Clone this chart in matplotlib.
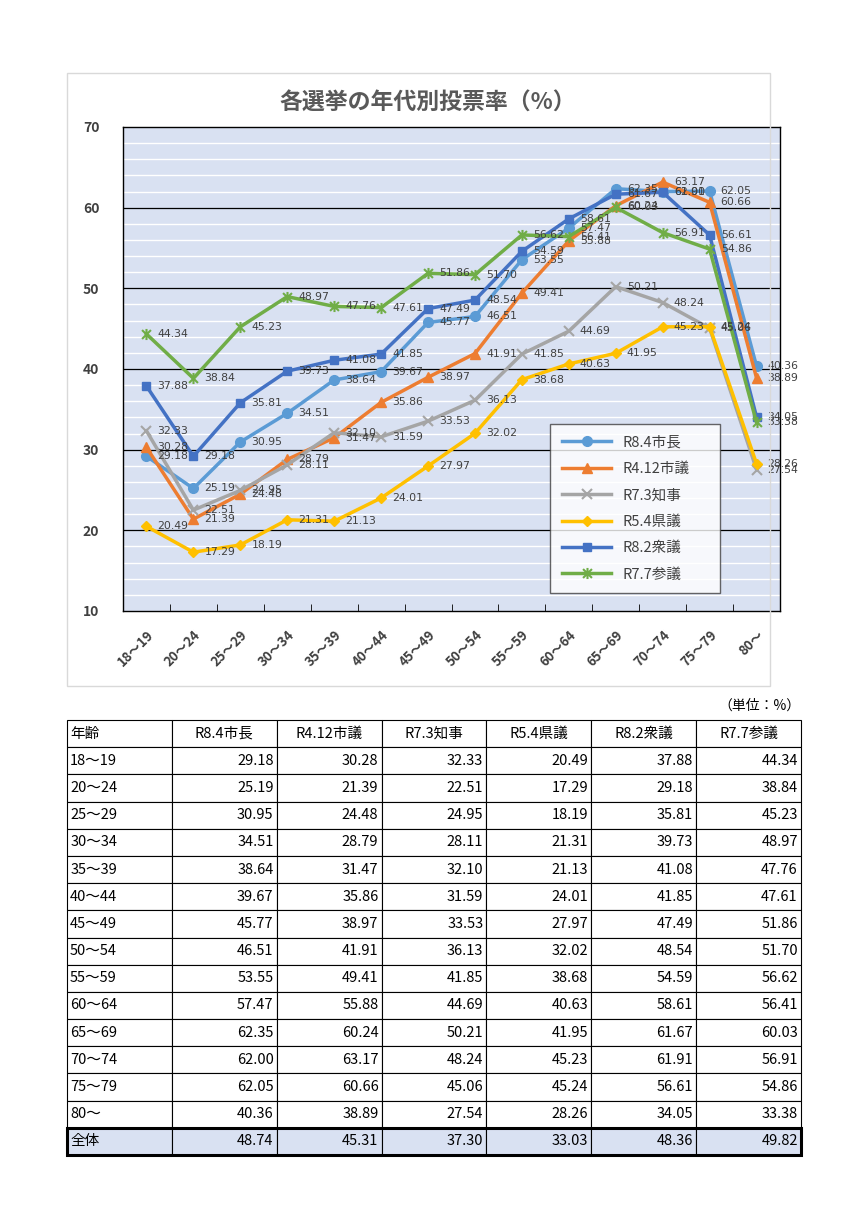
import matplotlib
matplotlib.use("Agg")
import matplotlib.pyplot as plt
from matplotlib.patches import Rectangle
from matplotlib.path import Path
import numpy as np

plt.rcParams['font.family'] = ['Noto Sans CJK JP', 'DejaVu Sans']

ages = ["18～19", "20～24", "25～29", "30～34", "35～39", "40～44", "45～49",
        "50～54", "55～59", "60～64", "65～69", "70～74", "75～79", "80～"]
names = ["R8.4市長", "R4.12市議", "R7.3知事", "R5.4県議", "R8.2衆議", "R7.7参議"]

mayor = [29.18, 25.19, 30.95, 34.51, 38.64, 39.67, 45.77, 46.51, 53.55, 57.47, 62.35, 62.00, 62.05, 40.36]
city = [30.28, 21.39, 24.48, 28.79, 31.47, 35.86, 38.97, 41.91, 49.41, 55.88, 60.24, 63.17, 60.66, 38.89]
governor = [32.33, 22.51, 24.95, 28.11, 32.10, 31.59, 33.53, 36.13, 41.85, 44.69, 50.21, 48.24, 45.06, 27.54]
pref = [20.49, 17.29, 18.19, 21.31, 21.13, 24.01, 27.97, 32.02, 38.68, 40.63, 41.95, 45.23, 45.24, 28.26]
lower = [37.88, 29.18, 35.81, 39.73, 41.08, 41.85, 47.49, 48.54, 54.59, 58.61, 61.67, 61.91, 56.61, 34.05]
upper = [44.34, 38.84, 45.23, 48.97, 47.76, 47.61, 51.86, 51.70, 56.62, 56.41, 60.03, 56.91, 54.86, 33.38]
total = [48.74, 45.31, 37.30, 33.03, 48.36, 49.82]

series = [mayor, city, governor, pref, lower, upper]
colors = ["#5B9BD5", "#ED7D31", "#A5A5A5", "#FFC000", "#4472C4", "#70AD47"]

# Excel "star" marker: an x with a vertical stroke through it
star = Path([(-1, -1), (1, 1), (-1, 1), (1, -1), (0, -1.25), (0, 1.25)],
            [Path.MOVETO, Path.LINETO, Path.MOVETO, Path.LINETO, Path.MOVETO, Path.LINETO])
markers = ["o", "^", "x", "D", "s", star]
msizes = [7, 7, 7, 5, 6, 8]

fig = plt.figure(figsize=(8.68, 12.28), dpi=100)

# chart frame
fig.patches.append(Rectangle((67 / 868, 1 - 686 / 1228), 703 / 868, 613 / 1228,
                             transform=fig.transFigure, fill=False,
                             edgecolor="#D9D9D9", linewidth=1))

ax = fig.add_axes([123 / 868, 1 - 611 / 1228, 657 / 868, 484 / 1228])
ax.set_facecolor("#D9E1F2")
x = np.arange(len(ages))
for y in range(12, 70, 2):
    if y % 10:
        ax.axhline(y, color="white", lw=1, zorder=0)
for y in (20, 30, 40, 50, 60):
    ax.axhline(y, color="black", lw=0.9, zorder=0.5)

for i in range(6):
    vals = series[i]
    thin = i in (2, 5)
    ax.plot(x, vals, color=colors[i], lw=2.5, marker=markers[i], ms=msizes[i],
            mew=1.5 if thin else 1, mfc=colors[i] if not thin else "none",
            label=names[i], zorder=3 + i)
    for xi, v in zip(x, vals):
        ax.annotate(f"{v:.2f}", (xi, v), xytext=(8, 0), textcoords="offset points",
                    ha="left", va="center", fontsize=7.8, color="#404040",
                    family=["DejaVu Sans"], zorder=10)

ax.set_xlim(-0.5, len(ages) - 0.5)
ax.set_ylim(10, 70)
ax.set_yticks([10, 20, 30, 40, 50, 60, 70])
ax.set_yticklabels(["10", "20", "30", "40", "50", "60", "70"],
                   fontsize=10, fontweight="bold", color="#404040")
ax.tick_params(axis="y", length=0, pad=17)
ax.set_xticks(x)
ax.set_xticklabels(ages, rotation=45, fontsize=9.5, fontweight="bold",
                   color="#404040", ha="right", va="top", rotation_mode="anchor")
ax.tick_params(axis="x", length=0, pad=12)
ax.set_xticks(np.arange(-0.5, len(ages), 1), minor=True)
ax.tick_params(axis="x", which="minor", direction="in", length=5, color="black")
for s in ax.spines.values():
    s.set_color("black")
    s.set_linewidth(1)

leg = ax.legend(loc="lower left", bbox_to_anchor=(0.65, 0.037, 0.259, 0.357),
                mode="expand", fontsize=10.5, frameon=True, fancybox=False,
                edgecolor="#404040", labelspacing=0.85, handlelength=3.4,
                borderpad=0.8, borderaxespad=0)
leg.get_frame().set_linewidth(1)
for t in leg.get_texts():
    t.set_color("#404040")

fig.text(428 / 868, 1 - 103 / 1228, "各選挙の年代別投票率（%）", ha="center", va="center",
         fontsize=16.5, fontweight="bold", color="#595959")

fig.text(800 / 868, 1 - 706 / 1228, "（単位：%）", ha="right", va="center",
         fontsize=10, color="black")

# table
tax = fig.add_axes([67 / 868, 1 - 1155 / 1228, 734 / 868, 435 / 1228])
tax.axis("off")
cells = [["年齢"] + names]
for i, a in enumerate(ages):
    cells.append([a] + [f"{s[i]:.2f}" for s in series])
cells.append(["全体"] + [f"{v:.2f}" for v in total])

nrow = len(cells)
tab = tax.table(cellText=cells, bbox=[0, 0, 1, 1], cellLoc="right")
tab.auto_set_font_size(False)
for (r, c), cell in tab.get_celld().items():
    cell.set_edgecolor("black")
    cell.set_linewidth(0.8)
    cell.set_fontsize(10.5)
    txt = cell.get_text()
    if r == 0:
        txt.set_ha("left" if c == 0 else "center")
        cell._loc = "left" if c == 0 else "center"
    elif c == 0:
        cell._loc = "left"
        txt.set_ha("left")
    if r == nrow - 1:
        cell.set_facecolor("#D9E1F2")
    cell.PAD = 0.03
tax.add_patch(Rectangle((0, 0), 1, 1 / nrow, transform=tax.transAxes, fill=False,
                        edgecolor="black", linewidth=2.2, clip_on=False, zorder=5))

fig.savefig("out.png", dpi=100)
